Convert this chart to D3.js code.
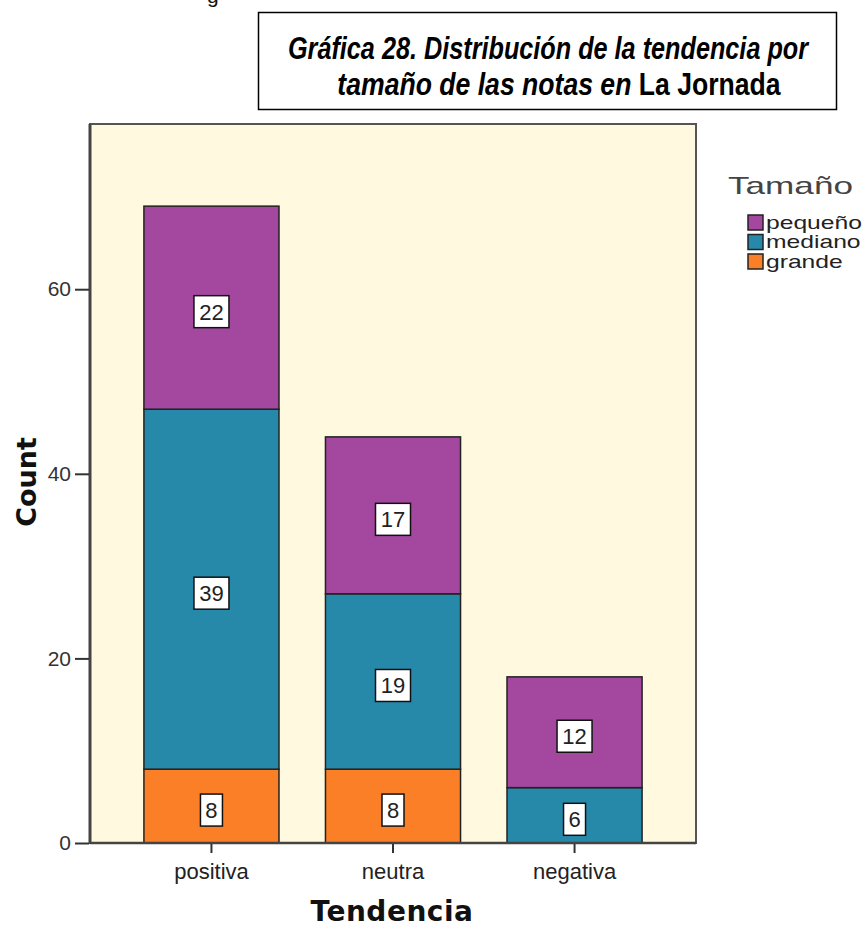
<!DOCTYPE html>
<html><head><meta charset="utf-8">
<script src="https://cdn.jsdelivr.net/npm/d3@7"></script>
<style>body{margin:0;background:#fff}svg{display:block}</style>
</head><body>
<svg id="c" width="867" height="935"></svg>
<script>
const categories = ["positiva", "neutra", "negativa"];
const seriesNames = ["grande", "mediano", "pequeño"];
const grande = [8, 8, 0];
const mediano = [39, 19, 6];
const pequeno = [22, 17, 12];
const yTicks = [0, 20, 40, 60];
const legendOrder = ["pequeño", "mediano", "grande"];
const colors = {"pequeño": "#A3479F", "mediano": "#2789AA", "grande": "#FB7F26"};

const svg = d3.select("#c");
const plot = {left: 90, right: 696, top: 124, bottom: 843};
const sans = "Liberation Sans, Arial, sans-serif";

// helper: horizontally scale a text group to a target width
function fitWidth(sel, cx, target) {
  const w = sel.node().getBBox().width;
  sel.attr("transform", `translate(${cx},0) scale(${target / w},1)`);
}

// stray glyph at top (remnant of text above)
svg.append("text").attr("x", 207).attr("y", 3).attr("font-family", sans)
  .attr("font-size", 21).attr("fill", "#111").text("g");

// title box
svg.append("rect").attr("x", 258.5).attr("y", 12.5).attr("width", 578).attr("height", 97)
  .attr("fill", "#fff").attr("stroke", "#000").attr("stroke-width", 1.5);
const tg1 = svg.append("g");
tg1.append("text").attr("x", 0).attr("y", 59).attr("text-anchor", "middle")
  .attr("font-family", sans).attr("font-size", 31).attr("font-weight", "bold").attr("font-style", "italic")
  .text("Gráfica 28. Distribución de la tendencia por");
fitWidth(tg1, 548, 522);
const tg2 = svg.append("g");
const t2 = tg2.append("text").attr("x", 0).attr("y", 95).attr("text-anchor", "middle")
  .attr("font-family", sans).attr("font-size", 31).attr("font-weight", "bold");
t2.append("tspan").attr("font-style", "italic").text("tamaño de las notas en ");
t2.append("tspan").text("La Jornada");
fitWidth(tg2, 559, 444);

// plot background
svg.append("rect").attr("x", plot.left).attr("y", plot.top).attr("width", plot.right - plot.left)
  .attr("height", plot.bottom - plot.top).attr("fill", "#FFFADF");

const x = d3.scaleBand().domain(categories).range([plot.left, plot.right]).paddingInner(0.256).paddingOuter(0.297);
const y = d3.scaleLinear().domain([0, 77.9]).range([plot.bottom, plot.top]);

const table = categories.map((c, i) => ({cat: c, "grande": grande[i], "mediano": mediano[i], "pequeño": pequeno[i]}));
const stacked = d3.stack().keys(seriesNames)(table);

const g = svg.append("g");
stacked.forEach(s => {
  s.forEach(d => {
    if (d[1] - d[0] <= 0) return;
    g.append("rect").attr("x", x(d.data.cat)).attr("y", y(d[1])).attr("width", x.bandwidth())
      .attr("height", y(d[0]) - y(d[1])).attr("fill", colors[s.key]).attr("stroke", "#222").attr("stroke-width", 1.5);
  });
});
stacked.forEach(s => {
  s.forEach(d => {
    const v = d[1] - d[0];
    if (v <= 0) return;
    const cx = x(d.data.cat) + x.bandwidth() / 2;
    const cy = (y(d[0]) + y(d[1])) / 2 + 4;
    const w = String(v).length > 1 ? 35 : 22;
    g.append("rect").attr("x", cx - w / 2).attr("y", cy - 16).attr("width", w).attr("height", 32)
      .attr("fill", "#fff").attr("stroke", "#111").attr("stroke-width", 1.5);
    g.append("text").attr("x", cx).attr("y", cy + 8).attr("text-anchor", "middle")
      .attr("font-family", sans).attr("font-size", 22).attr("fill", "#222").text(v);
  });
});

// frame
svg.append("rect").attr("x", plot.left).attr("y", plot.top).attr("width", plot.right - plot.left)
  .attr("height", plot.bottom - plot.top).attr("fill", "none").attr("stroke", "#555").attr("stroke-width", 2);
svg.append("line").attr("x1", plot.left).attr("x2", plot.left).attr("y1", plot.top).attr("y2", plot.bottom + 1)
  .attr("stroke", "#444").attr("stroke-width", 3);
svg.append("line").attr("x1", plot.left).attr("x2", plot.right).attr("y1", plot.bottom).attr("y2", plot.bottom)
  .attr("stroke", "#444").attr("stroke-width", 2.5);

// y axis
const ya = svg.append("g").attr("transform", `translate(${plot.left - 1},0)`)
  .call(d3.axisLeft(y).tickValues(yTicks).tickSize(14).tickPadding(4).tickFormat(d3.format("d")));
ya.select(".domain").remove();
ya.selectAll("line").attr("stroke", "#333").attr("stroke-width", 2);
ya.selectAll("text").attr("font-family", sans).attr("font-size", 21).attr("fill", "#333");

// x axis
const xa = svg.append("g").attr("transform", `translate(0,${plot.bottom + 1})`)
  .call(d3.axisBottom(x).tickSize(9).tickPadding(10));
xa.select(".domain").remove();
xa.selectAll("line").attr("stroke", "#333").attr("stroke-width", 2);
xa.selectAll("text").attr("font-family", sans).attr("font-size", 22).attr("fill", "#222");

// axis titles
svg.append("text").attr("transform", "translate(36,482) rotate(-90)").attr("text-anchor", "middle")
  .attr("font-family", "DejaVu Sans, sans-serif").attr("font-weight", "bold").attr("font-size", 27).attr("fill", "#111").text("Count");
svg.append("text").attr("x", 392).attr("y", 921).attr("text-anchor", "middle")
  .attr("font-family", "DejaVu Sans, sans-serif").attr("font-weight", "bold").attr("font-size", 28)
  .attr("letter-spacing", 0.5).attr("fill", "#111").text("Tendencia");

// legend
const lt = svg.append("g");
lt.append("text").attr("x", 0).attr("y", 194).attr("font-family", sans)
  .attr("font-size", 24).attr("fill", "#444").text("Tamaño");
lt.attr("transform", `translate(728,0) scale(${125 / lt.node().getBBox().width},1)`);
const lg = svg.append("g");
let legendScale = null;
legendOrder.forEach((k, i) => {
  const yy = 215 + i * 19.5;
  lg.append("rect").attr("x", 748).attr("y", yy).attr("width", 15).attr("height", 15)
    .attr("fill", colors[k]).attr("stroke", "#222").attr("stroke-width", 1.5);
  const t = lg.append("text").attr("font-family", sans).attr("font-size", 18).attr("fill", "#222").text(k);
  if (legendScale === null) legendScale = 96 / t.node().getBBox().width;
  t.attr("transform", `translate(766,${yy + 13.5}) scale(${legendScale},1)`);
});
</script>
</body></html>
